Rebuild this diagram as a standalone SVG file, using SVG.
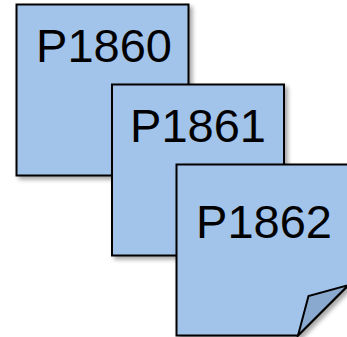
<svg xmlns="http://www.w3.org/2000/svg" width="347" height="337" viewBox="0 0 347 337">
  <style>
    .page { fill: #A2C3EA; stroke: #000000; stroke-width: 2; stroke-linejoin: miter; filter: url(#shadow); }
    .fold { fill: #89A9CF; stroke: #000000; stroke-width: 2; stroke-linejoin: miter; }
    .label { font-family: "Liberation Sans", Arial, sans-serif; font-size: 47px; fill: #000000; text-anchor: middle; }
  </style>
  <defs>
    <filter id="shadow" x="-10%" y="-10%" width="130%" height="130%">
      <feDropShadow dx="3" dy="3" stdDeviation="2" flood-color="#000000" flood-opacity="0.35"/>
    </filter>
  </defs>
  <g id="node-P1860">
    <rect class="page" x="16.5" y="4.5" width="172" height="171"/>
    <text class="label" x="104" y="62">P1860</text>
  </g>
  <g id="node-P1861">
    <rect class="page" x="112" y="84.5" width="172" height="171"/>
    <text class="label" x="198" y="141.5">P1861</text>
  </g>
  <g id="node-P1862">
    <path class="page" d="M176.5,164.5 H348.5 V285 L298,335.5 H176.5 Z"/>
    <polygon class="fold" points="298,335.5 308.5,296 348.5,285"/>
    <text class="label" x="264" y="238">P1862</text>
  </g>
  <g id="connectors"></g>
</svg>
